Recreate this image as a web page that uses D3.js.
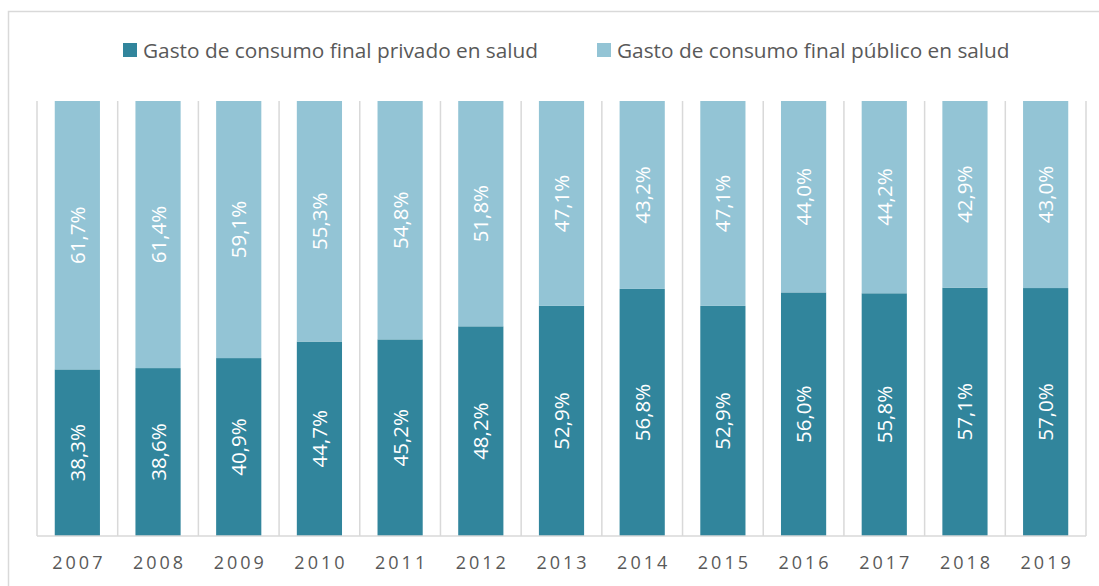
<!DOCTYPE html>
<html>
<head>
<meta charset="utf-8">
<script src="https://cdn.jsdelivr.net/npm/d3@7"></script>
<style>
  body { margin: 0; background: #fff; }
  text { font-family: "Open Sans", sans-serif; }
</style>
</head>
<body>
<svg width="1099" height="586" id="mainsvg"></svg>
<script>
    const years = ['2007','2008','2009','2010','2011','2012','2013','2014','2015','2016','2017','2018','2019'];
    const privado = [38.3, 38.6, 40.9, 44.7, 45.2, 48.2, 52.9, 56.8, 52.9, 56.0, 55.8, 57.1, 57.0];
    const publico = [61.7, 61.4, 59.1, 55.3, 54.8, 51.8, 47.1, 43.2, 47.1, 44.0, 44.2, 42.9, 43.0];
    const seriesNames = ['Gasto de consumo final privado en salud', 'Gasto de consumo final público en salud'];
    const colors = ['#31859c', '#93c4d5'];

    let svg = d3.select('#mainsvg');

    // chart frame (cut off by the window on right and bottom)
    svg.append('rect')
        .attr('x', 8.5).attr('y', 11.5)
        .attr('width', 1200).attr('height', 700)
        .attr('fill', 'none')
        .attr('stroke', '#d9d9d9')
        .attr('stroke-width', 1.5);

    const plotLeft = 37, plotRight = 1086, plotTop = 101, plotBottom = 536;

    let x = d3.scaleBand().domain(years).range([plotLeft, plotRight]).paddingInner(0.44).paddingOuter(0.22);
    let y = d3.scaleLinear().domain([0, 100]).range([plotBottom, plotTop]);
    let xSep = d3.scaleLinear().domain([0, years.length]).range([plotLeft, plotRight]);

    // category separators
    svg.append('g').selectAll('line')
        .data(d3.range(years.length + 1))
        .join('line')
        .attr('x1', d => xSep(d)).attr('x2', d => xSep(d))
        .attr('y1', plotTop).attr('y2', plotBottom)
        .attr('stroke', '#d9d9d9').attr('stroke-width', 1.5);

    let rows = years.map((yr, i) => ({year: yr, privado: privado[i], publico: publico[i]}));
    let stack = d3.stack().keys(['privado', 'publico'])(rows);

    let groups = svg.append('g').selectAll('g')
        .data(stack)
        .join('g')
        .attr('fill', (d, i) => colors[i]);

    groups.selectAll('rect')
        .data(d => d)
        .join('rect')
        .attr('x', d => x(d.data.year))
        .attr('width', x.bandwidth())
        .attr('y', d => y(d[1]))
        .attr('height', d => y(d[0]) - y(d[1]));

    groups.selectAll('text')
        .data(d => d)
        .join('text')
        .attr('transform', d => `translate(${x(d.data.year) + x.bandwidth() / 2 + 7.5},${(y(d[0]) + y(d[1])) / 2}) rotate(-90)`)
        .attr('text-anchor', 'middle')
        .attr('fill', '#fff')
        .attr('font-size', 20.5)
        .text(d => (d[1] - d[0]).toFixed(1).replace('.', ',') + '%');

    // bottom axis line
    svg.append('line')
        .attr('x1', plotLeft).attr('x2', plotRight)
        .attr('y1', plotBottom).attr('y2', plotBottom)
        .attr('stroke', '#d9d9d9').attr('stroke-width', 1.5);

    let xAxis = d3.axisBottom(x).tickSize(0).tickPadding(20);
    let ax = svg.append('g').attr('transform', `translate(0,${plotBottom})`).call(xAxis);
    ax.select('.domain').remove();
    ax.selectAll('text')
        .attr('font-size', 18)
        .attr('fill', '#595959')
        .attr('letter-spacing', '3px')
        .attr('dx', '1.5px')
        .style('font-family', '"Open Sans", sans-serif');

    // legend
    const legendX = [123, 597];
    let legend = svg.append('g').selectAll('g')
        .data(seriesNames)
        .join('g')
        .attr('transform', (d, i) => `translate(${legendX[i]},43)`);
    legend.append('rect').attr('width', 14).attr('height', 14).attr('fill', (d, i) => colors[i]);
    legend.append('text')
        .attr('x', 20).attr('y', 14.5)
        .attr('font-size', 20.8)
        .attr('fill', '#595959')
        .text(d => d);
</script>
</body>
</html>
